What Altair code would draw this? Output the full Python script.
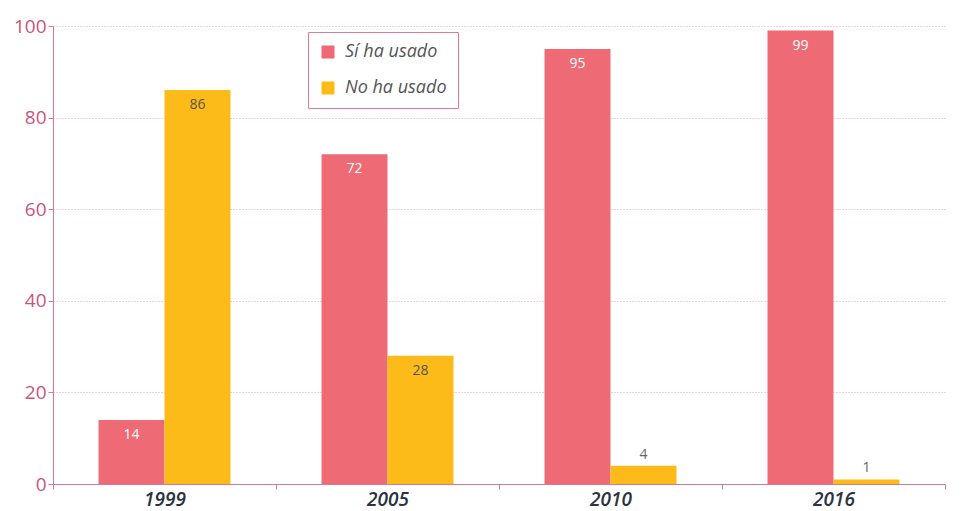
import altair as alt
import pandas as pd

years = ["1999", "2005", "2010", "2016"]
si = [14, 72, 95, 99]
no = [86, 28, 4, 1]
series = ["Sí ha usado", "No ha usado"]

rows = []
for i, y in enumerate(years):
    rows.append({"year": y, "serie": series[0], "value": si[i]})
    rows.append({"year": y, "serie": series[1], "value": no[i]})
df = pd.DataFrame(rows)

FONT = "Open Sans"
PINK = "#d9799a"
colors = ["#ee6a75", "#fdbb1a"]

xenc = alt.X("year:N", sort=years,
             scale=alt.Scale(paddingInner=0, paddingOuter=0),
             axis=alt.Axis(title=None, labelAngle=0, tickBand="extent",
                           labelFont=FONT, labelFontSize=19, labelFontStyle="italic",
                           labelFontWeight=600, labelColor="#2b3340", labelPadding=1,
                           domainColor=PINK, tickColor=PINK, tickSize=5, grid=False))
yenc = alt.Y("value:Q", scale=alt.Scale(domain=[0, 100]),
             axis=alt.Axis(title=None, values=[0, 20, 40, 60, 80, 100],
                           labelFont=FONT, labelFontSize=19, labelColor="#c9557e",
                           domainColor=PINK, tickColor=PINK, tickSize=5,
                           gridColor="#e6a2b8", gridDash=[1, 2], gridWidth=1))
xoff = alt.XOffset("serie:N", sort=series,
                   scale=alt.Scale(paddingInner=0, paddingOuter=0.69))

base = alt.Chart(df)

bars = base.mark_bar().encode(
    x=xenc, xOffset=xoff, y=yenc,
    color=alt.Color("serie:N", sort=series,
                    scale=alt.Scale(domain=series, range=colors),
                    legend=alt.Legend(title=None, orient="none", legendX=255, legendY=6,
                                      labelFont=FONT, labelFontSize=18, labelFontStyle="italic",
                                      labelColor="#555555", symbolType="square", symbolSize=170,
                                      symbolStrokeWidth=0, rowPadding=18, padding=11,
                                      strokeColor="#e07a95", fillColor="white",
                                      labelLimit=200, labelOffset=8))
)

inside = base.transform_filter("datum.value >= 10").mark_text(
    baseline="top", dy=8, font=FONT, fontSize=14
).encode(
    x=xenc, xOffset=xoff, y=yenc, text="value:Q",
    fill=alt.Fill("serie:N", sort=series,
                  scale=alt.Scale(domain=series, range=["#ffffff", "#555555"]), legend=None)
)

above = base.transform_filter("datum.value < 10").mark_text(
    baseline="bottom", dy=-4, font=FONT, fontSize=14, color="#666666"
).encode(
    x=xenc, xOffset=xoff, y=yenc, text="value:Q"
)

chart = alt.layer(bars, inside, above).resolve_scale(fill="independent").properties(
    width=892, height=458, background="white",
    padding={"left": 5, "top": 9, "right": 0, "bottom": 0}
).configure_view(stroke=None).configure_legend(strokeColor="#e07a95")

chart.save("out.html", embed_options={"renderer": "svg", "actions": False})
